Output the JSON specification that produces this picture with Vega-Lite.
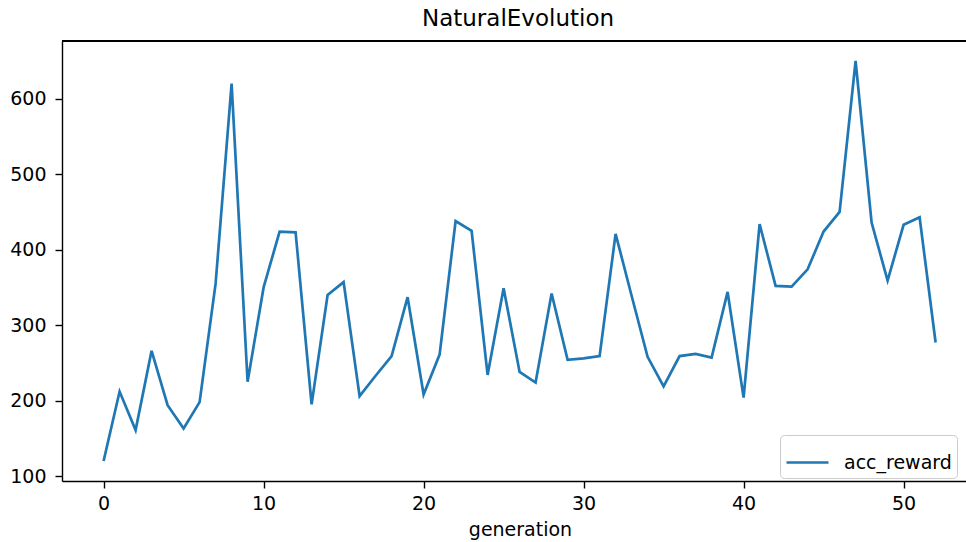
{
  "$schema": "https://vega.github.io/schema/vega-lite/v6.json",
  "width": 904,
  "height": 440,
  "autosize": {"type": "none"},
  "padding": {"left": 62, "top": 41, "right": 0, "bottom": 61},
  "background": "white",
  "config": {
    "view": {"stroke": null},
    "font": "DejaVu Sans",
    "axis": {
      "domainColor": "#000", "domainWidth": 1.4, "tickColor": "#000", "tickWidth": 1.4, "tickSize": 7,
      "labelFont": "DejaVu Sans", "labelFontSize": 19, "labelColor": "#000", "grid": false,
      "titleFont": "DejaVu Sans", "titleFontSize": 19, "titleFontWeight": "normal", "titleColor": "#000"
    }
  },
  "title": {"text": "NaturalEvolution", "font": "DejaVu Sans", "fontSize": 23, "fontWeight": "normal", "color": "#000", "anchor": "middle", "frame": "group", "offset": 9, "dx": 4},
  "data": {"values": [
    {"generation": 0, "acc_reward": 120}, {"generation": 1, "acc_reward": 212}, {"generation": 2, "acc_reward": 161},
    {"generation": 3, "acc_reward": 266}, {"generation": 4, "acc_reward": 194}, {"generation": 5, "acc_reward": 163},
    {"generation": 6, "acc_reward": 198}, {"generation": 7, "acc_reward": 355}, {"generation": 8, "acc_reward": 620},
    {"generation": 9, "acc_reward": 225}, {"generation": 10, "acc_reward": 350}, {"generation": 11, "acc_reward": 424},
    {"generation": 12, "acc_reward": 423}, {"generation": 13, "acc_reward": 195}, {"generation": 14, "acc_reward": 340},
    {"generation": 15, "acc_reward": 357}, {"generation": 16, "acc_reward": 206}, {"generation": 17, "acc_reward": 233},
    {"generation": 18, "acc_reward": 259}, {"generation": 19, "acc_reward": 337}, {"generation": 20, "acc_reward": 208},
    {"generation": 21, "acc_reward": 261}, {"generation": 22, "acc_reward": 438}, {"generation": 23, "acc_reward": 425},
    {"generation": 24, "acc_reward": 234}, {"generation": 25, "acc_reward": 349}, {"generation": 26, "acc_reward": 238},
    {"generation": 27, "acc_reward": 224}, {"generation": 28, "acc_reward": 342}, {"generation": 29, "acc_reward": 254},
    {"generation": 30, "acc_reward": 256}, {"generation": 31, "acc_reward": 259}, {"generation": 32, "acc_reward": 421},
    {"generation": 33, "acc_reward": 339}, {"generation": 34, "acc_reward": 258}, {"generation": 35, "acc_reward": 219},
    {"generation": 36, "acc_reward": 259}, {"generation": 37, "acc_reward": 262}, {"generation": 38, "acc_reward": 257},
    {"generation": 39, "acc_reward": 344}, {"generation": 40, "acc_reward": 204}, {"generation": 41, "acc_reward": 434},
    {"generation": 42, "acc_reward": 352}, {"generation": 43, "acc_reward": 351}, {"generation": 44, "acc_reward": 374},
    {"generation": 45, "acc_reward": 424}, {"generation": 46, "acc_reward": 450}, {"generation": 47, "acc_reward": 650},
    {"generation": 48, "acc_reward": 436}, {"generation": 49, "acc_reward": 359}, {"generation": 50, "acc_reward": 433},
    {"generation": 51, "acc_reward": 443}, {"generation": 52, "acc_reward": 277}
  ]},
  "layer": [
    {
      "mark": {"type": "rule", "color": "#000", "strokeWidth": 1.4},
      "encoding": {
        "y": {"datum": 676.5, "type": "quantitative", "scale": {"domain": [93.5, 676.5], "nice": false, "zero": false},
              "axis": {"title": null, "values": [100, 200, 300, 400, 500, 600], "labelPadding": 9}}
      }
    },
    {
      "mark": {"type": "line", "strokeWidth": 2.7},
      "encoding": {
        "x": {"field": "generation", "type": "quantitative",
              "scale": {"domain": [-2.6, 53.9], "nice": false, "zero": false},
              "axis": {"title": "generation", "values": [0, 10, 20, 30, 40, 50], "labelPadding": 6,
                       "titleX": 458, "titleY": 54, "titleBaseline": "alphabetic", "titleAnchor": "middle", "titleAlign": "center"}},
        "y": {"field": "acc_reward", "type": "quantitative",
              "scale": {"domain": [93.5, 676.5], "nice": false, "zero": false},
              "axis": {"title": null, "values": [100, 200, 300, 400, 500, 600], "labelPadding": 9}},
        "color": {"datum": "acc_reward", "scale": {"range": ["#1f77b4"]},
                  "legend": {"title": null, "orient": "none", "legendX": 718, "legendY": 394,
                             "symbolType": "stroke", "symbolSize": 1764, "symbolStrokeWidth": 2.7, "symbolStrokeColor": "#1f77b4",
                             "labelFont": "DejaVu Sans", "labelFontSize": 19, "labelColor": "#000", "labelOffset": 14,
                             "padding": 5, "strokeColor": "#cccccc", "fillColor": "white", "cornerRadius": 4}}
      }
    }
  ]
}
